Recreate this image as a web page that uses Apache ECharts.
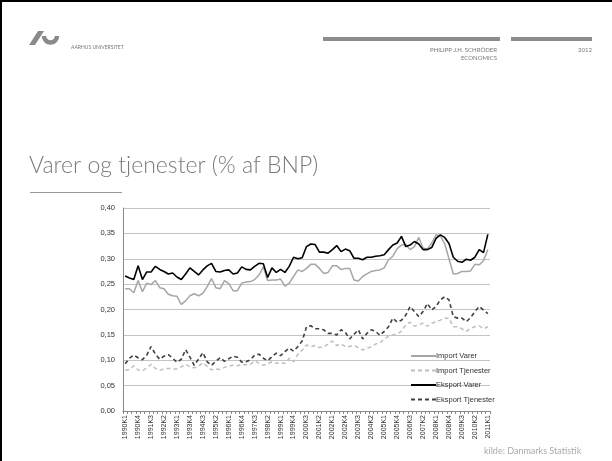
<!DOCTYPE html>
<html>
<head>
<meta charset="utf-8">
<script src="https://cdn.jsdelivr.net/npm/echarts@6/dist/echarts.min.js"></script>
<style>
  html, body { margin: 0; padding: 0; background: #fff; }
  #chart { width: 612px; height: 461px; }
</style>
</head>
<body>
<div id="chart"></div>
<script>
// kvartaler 1990K1 - 2011K1
const firstYear = 1990;
const lastYear = 2011;
const quarters = [];
for (let y = firstYear; y <= lastYear; y++) {
    for (let q = 1; q <= 4; q++) {
        if (y === lastYear && q > 1) break;
        quarters.push(y + 'K' + q);
    }
}

const seriesNames = ['Import Varer', 'Import Tjenester', 'Eksport Varer', 'Eksport Tjenester'];

const importVarer = [
    0.241, 0.241, 0.233, 0.257, 0.235, 0.252, 0.249, 0.257, 0.243, 0.241,
    0.230, 0.227, 0.226, 0.210, 0.217, 0.227, 0.231, 0.227, 0.232, 0.245,
    0.261, 0.243, 0.241, 0.257, 0.251, 0.237, 0.237, 0.252, 0.254, 0.255,
    0.259, 0.268, 0.284, 0.257, 0.258, 0.258, 0.260, 0.246, 0.252, 0.265,
    0.278, 0.275, 0.281, 0.289, 0.289, 0.281, 0.271, 0.273, 0.286, 0.286,
    0.279, 0.281, 0.281, 0.258, 0.256, 0.265, 0.270, 0.275, 0.277, 0.278,
    0.282, 0.298, 0.305, 0.320, 0.327, 0.328, 0.318, 0.324, 0.342, 0.321,
    0.319, 0.331, 0.347, 0.345, 0.330, 0.300, 0.270, 0.271, 0.275, 0.275,
    0.276, 0.289, 0.288, 0.296, 0.318
];

const importTjenester = [
    0.080, 0.082, 0.089, 0.081, 0.079, 0.085, 0.092, 0.084, 0.080, 0.083,
    0.084, 0.083, 0.083, 0.087, 0.092, 0.087, 0.085, 0.088, 0.095, 0.088,
    0.081, 0.083, 0.082, 0.086, 0.089, 0.090, 0.089, 0.092, 0.091, 0.092,
    0.099, 0.094, 0.090, 0.093, 0.097, 0.094, 0.095, 0.094, 0.104, 0.097,
    0.112, 0.120, 0.130, 0.127, 0.129, 0.125, 0.127, 0.132, 0.138, 0.129,
    0.132, 0.127, 0.127, 0.129, 0.125, 0.120, 0.124, 0.126, 0.132, 0.134,
    0.142, 0.147, 0.150, 0.152, 0.157, 0.170, 0.175, 0.167, 0.170, 0.173,
    0.167, 0.173, 0.176, 0.179, 0.183, 0.183, 0.166, 0.166, 0.162, 0.157,
    0.163, 0.166, 0.168, 0.162, 0.166
];

const eksportVarer = [
    0.266, 0.262, 0.259, 0.286, 0.259, 0.274, 0.274, 0.285, 0.279, 0.275,
    0.270, 0.272, 0.264, 0.259, 0.270, 0.282, 0.275, 0.268, 0.278, 0.286,
    0.291, 0.275, 0.274, 0.277, 0.278, 0.270, 0.272, 0.284, 0.279, 0.278,
    0.285, 0.291, 0.290, 0.263, 0.282, 0.273, 0.279, 0.273, 0.285, 0.303,
    0.300, 0.302, 0.324, 0.329, 0.328, 0.313, 0.313, 0.311, 0.318, 0.326,
    0.314, 0.319, 0.316, 0.301, 0.301, 0.298, 0.303, 0.303, 0.305, 0.306,
    0.308, 0.318, 0.327, 0.331, 0.344, 0.324, 0.327, 0.334, 0.329, 0.318,
    0.318, 0.322, 0.340, 0.347, 0.342, 0.330, 0.303, 0.295, 0.293, 0.299,
    0.297, 0.303, 0.318, 0.312, 0.348
];

const eksportTjenester = [
    0.093, 0.104, 0.110, 0.105, 0.101, 0.110, 0.127, 0.112, 0.102, 0.108,
    0.111, 0.104, 0.096, 0.102, 0.121, 0.106, 0.090, 0.102, 0.115, 0.097,
    0.090, 0.098, 0.105, 0.098, 0.103, 0.108, 0.106, 0.096, 0.097, 0.101,
    0.110, 0.112, 0.104, 0.099, 0.107, 0.114, 0.109, 0.117, 0.124, 0.118,
    0.127, 0.138, 0.166, 0.168, 0.162, 0.162, 0.160, 0.153, 0.153, 0.150,
    0.160, 0.155, 0.142, 0.151, 0.160, 0.142, 0.153, 0.160, 0.157, 0.149,
    0.157, 0.166, 0.183, 0.175, 0.179, 0.189, 0.206, 0.196, 0.186, 0.196,
    0.212, 0.199, 0.206, 0.219, 0.225, 0.219, 0.186, 0.183, 0.183, 0.176,
    0.184, 0.196, 0.206, 0.199, 0.192
];

const chartFont = 'Liberation Sans';
const slideFont = 'Lato';

const mkLine = (name, data, color, width, dashed) => ({
    name: name,
    type: 'line',
    data: data,
    symbol: 'none',
    showSymbol: false,
    smooth: false,
    animation: false,
    lineStyle: { color: color, width: width, type: dashed ? [4, 3] : 'solid' },
    itemStyle: { color: color }
});

const chart = echarts.init(document.getElementById('chart'), null, { renderer: 'canvas' });

chart.setOption({
    animation: false,
    backgroundColor: '#fff',
    grid: { left: 123, right: 122, top: 208, bottom: 50, containLabel: false },
    xAxis: {
        type: 'category',
        data: quarters,
        boundaryGap: true,
        axisLine: { lineStyle: { color: '#888', width: 1 } },
        axisTick: { show: true, interval: 0, length: 3, lineStyle: { color: '#888' } },
        axisLabel: {
            interval: 2,
            rotate: 90,
            fontSize: 7,
            fontFamily: chartFont,
            color: '#333',
            margin: 4
        },
        splitLine: { show: false }
    },
    yAxis: {
        type: 'value',
        min: 0,
        max: 0.4,
        interval: 0.05,
        axisLine: { show: true, lineStyle: { color: '#888', width: 1 } },
        axisTick: { show: false },
        axisLabel: {
            fontSize: 7.5,
            fontFamily: chartFont,
            color: '#333',
            margin: 8,
            formatter: v => v.toFixed(2).replace('.', ',')
        },
        splitLine: { lineStyle: { color: '#c4c4c4', width: 1 } }
    },
    legend: {
        orient: 'vertical',
        left: 405,
        top: 347,
        itemWidth: 25,
        itemHeight: 8,
        itemGap: 6.5,
        itemStyle: { opacity: 0 },
        textStyle: { fontSize: 7.5, fontFamily: chartFont, color: '#333', padding: [0, 0, 0, -5] },
        data: seriesNames
    },
    series: [
        mkLine(seriesNames[0], importVarer, '#a6a6a6', 1.5, false),
        mkLine(seriesNames[1], importTjenester, '#bfbfbf', 1.5, true),
        mkLine(seriesNames[2], eksportVarer, '#000000', 1.6, false),
        mkLine(seriesNames[3], eksportTjenester, '#404040', 1.6, true)
    ],
    graphic: [
        // ramme
        { type: 'rect', shape: { x: 0, y: 0, width: 612, height: 2 }, style: { fill: '#000' } },
        { type: 'rect', shape: { x: 0, y: 0, width: 2, height: 461 }, style: { fill: '#000' } },
        // AU logo
        { type: 'polygon', shape: { points: [[29, 45], [35, 45], [44, 31], [38, 31]] }, style: { fill: '#8a8a8a' } },
        { type: 'arc', shape: { cx: 50.5, cy: 36, r: 6.5, startAngle: 0, endAngle: Math.PI }, style: { stroke: '#8a8a8a', lineWidth: 4.5, fill: null } },
        { type: 'text', left: 71, top: 45, style: { text: 'AARHUS UNIVERSITET', font: '5px ' + slideFont, fill: '#777' } },
        // topbjælker
        { type: 'rect', shape: { x: 323, y: 37, width: 177, height: 4 }, style: { fill: '#8c8c8c' } },
        { type: 'rect', shape: { x: 511, y: 37, width: 81, height: 4 }, style: { fill: '#8c8c8c' } },
        { type: 'text', right: 115, top: 47, style: { text: 'PHILIPP J.H. SCHRÖDER', font: '6px ' + slideFont, fill: '#777', align: 'right' } },
        { type: 'text', right: 115, top: 55, style: { text: 'ECONOMICS', font: '6px ' + slideFont, fill: '#777', align: 'right' } },
        { type: 'text', right: 20, top: 47, style: { text: '2012', font: '6px ' + slideFont, fill: '#777', align: 'right' } },
        // titel
        { type: 'text', left: 29, top: 154, style: { text: 'Varer og tjenester (% af BNP)', font: '300 23px ' + slideFont, fill: '#7a7a7a' } },
        { type: 'rect', shape: { x: 30, y: 192, width: 92, height: 1 }, style: { fill: '#999' } },
        // kilde
        { type: 'text', left: 484, top: 447, style: { text: 'kilde: Danmarks Statistik', font: '9px ' + slideFont, fill: '#aaa' } }
    ]
});
</script>
</body>
</html>
